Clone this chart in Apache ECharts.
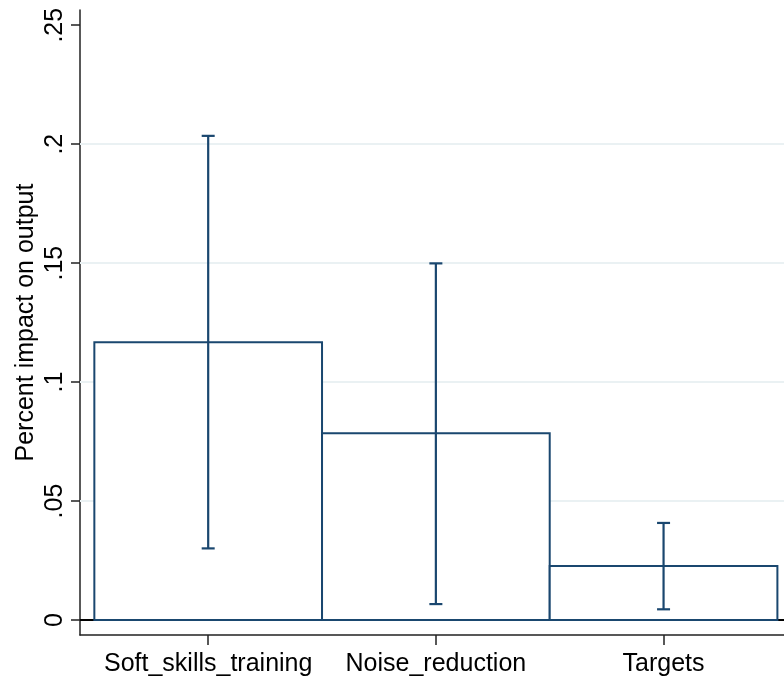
<!DOCTYPE html>
<html>
<head>
<meta charset="utf-8">
<script src="https://cdn.jsdelivr.net/npm/echarts@6/dist/echarts.min.js"></script>
<style>
html,body{margin:0;padding:0;background:#fff;}
#chart{width:784px;height:677px;}
</style>
</head>
<body>
<div id="chart"></div>
<script>
// ---- data ----
const categories = ['Soft_skills_training', 'Noise_reduction', 'Targets'];
const means = [0.1167, 0.0785, 0.0227];
const lowerCI = [0.0301, 0.0067, 0.0045];
const upperCI = [0.2035, 0.1499, 0.0408];
const yTicks = [0, 0.05, 0.1, 0.15, 0.2, 0.25];
const yTickLabels = ['0', '.05', '.1', '.15', '.2', '.25'];
const gridValues = [0.05, 0.1, 0.15, 0.2];
const xPositions = [0, 1, 2];

const FONT = '"Liberation Sans", Arial, Helvetica, sans-serif';
const NAVY = '#1a476f';
const AXIS = '#222';

const chart = echarts.init(document.getElementById('chart'), null, {renderer: 'canvas'});

const barData = xPositions.map((x, i) => [x, means[i]]);
const errData = xPositions.map((x, i) => [x, lowerCI[i], upperCI[i]]);

const option = {
  animation: false,
  backgroundColor: '#fff',
  grid: {left: 80, right: 0, top: 10, bottom: 41},
  xAxis: {
    type: 'value',
    min: -0.563,
    max: 2.529,
    axisLine: {show: true, onZero: false, lineStyle: {color: AXIS, width: 1.5}},
    axisTick: {show: true, length: 10, customValues: xPositions, lineStyle: {color: AXIS, width: 1.5}},
    axisLabel: {
      show: true, customValues: xPositions, margin: 17,
      fontFamily: FONT, fontSize: 25, color: '#000',
      formatter: v => categories[Math.round(v)]
    },
    splitLine: {show: false}
  },
  yAxis: {
    type: 'value',
    min: -0.0063,
    max: 0.2564,
    name: 'Percent impact on output',
    nameLocation: 'middle',
    nameRotate: 90,
    nameGap: 41,
    nameMoveOverlap: false,
    nameTextStyle: {fontFamily: FONT, fontSize: 25, color: '#000'},
    axisLine: {show: true, onZero: false, lineStyle: {color: AXIS, width: 1.5}},
    axisTick: {show: true, length: 9, customValues: yTicks, lineStyle: {color: AXIS, width: 1.5}},
    axisLabel: {
      show: true, customValues: yTicks, rotate: 90, margin: 12,
      fontFamily: FONT, fontSize: 25, color: '#000',
      formatter: v => {
        const i = yTicks.findIndex(t => Math.abs(t - v) < 1e-9);
        return i >= 0 ? yTickLabels[i] : '';
      }
    },
    splitLine: {show: false}
  },
  series: [
    {
      type: 'line', data: [], z: 1, silent: true,
      markLine: {
        z: 1,
        silent: true, symbol: ['none', 'none'], label: {show: false},
        lineStyle: {color: '#eaf1f3', width: 2, type: 'solid'},
        data: gridValues.map(v => ({yAxis: v}))
      }
    },
    {
      type: 'line', data: [], z: 2, silent: true,
      markLine: {
        z: 2,
        silent: true, symbol: ['none', 'none'], label: {show: false},
        lineStyle: {color: '#000', width: 2, type: 'solid'},
        data: [{yAxis: 0}]
      }
    },
    {
      type: 'custom', z: 3, data: barData,
      renderItem: (params, api) => {
        const x = api.value(0), v = api.value(1);
        const p0 = api.coord([x - 0.5, v]);
        const p1 = api.coord([x + 0.5, 0]);
        return {
          type: 'rect',
          shape: {x: p0[0], y: p0[1], width: p1[0] - p0[0], height: p1[1] - p0[1]},
          style: {fill: '#fff', stroke: NAVY, lineWidth: 2}
        };
      }
    },
    {
      type: 'custom', z: 4, data: errData,
      renderItem: (params, api) => {
        const x = api.value(0);
        const lo = api.coord([x, api.value(1)]);
        const hi = api.coord([x, api.value(2)]);
        const hw = 6.5;
        const st = {stroke: NAVY, lineWidth: 2.2};
        return {
          type: 'group',
          children: [
            {type: 'line', shape: {x1: lo[0], y1: lo[1], x2: hi[0], y2: hi[1]}, style: st},
            {type: 'line', shape: {x1: lo[0] - hw, y1: lo[1], x2: lo[0] + hw, y2: lo[1]}, style: st},
            {type: 'line', shape: {x1: hi[0] - hw, y1: hi[1], x2: hi[0] + hw, y2: hi[1]}, style: st}
          ]
        };
      }
    }
  ]
};
chart.setOption(option);
</script>
</body>
</html>
